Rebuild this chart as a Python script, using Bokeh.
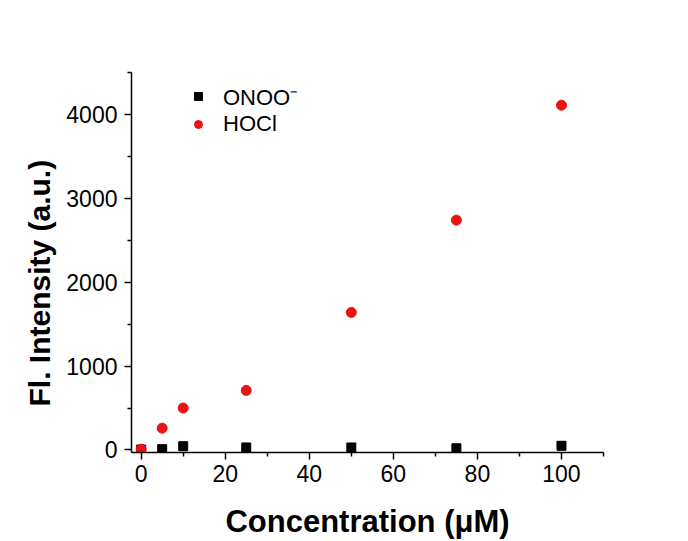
from bokeh.plotting import figure
from bokeh.models import Range1d, FixedTicker, Legend, LegendItem, Title
from bokeh.embed import file_html
from bokeh.resources import INLINE

conc_onoo = [0, 5, 10, 25, 50, 75, 100]
fl_onoo = [5, 10, 45, 30, 30, 20, 50]
conc_hocl = [0, 5, 10, 25, 50, 75, 100]
fl_hocl = [10, 260, 500, 710, 1640, 2740, 4110]
x_ticks = [0, 20, 40, 60, 80, 100]
y_ticks = [0, 1000, 2000, 3000, 4000]

p = figure(width=688, height=541, output_backend="svg", toolbar_location=None,
           x_range=Range1d(-2.3, 110), y_range=Range1d(-30, 4500),
           min_border_left=131, min_border_right=85, min_border_top=72, min_border_bottom=88)
p.outline_line_color = None
p.grid.visible = False

for ax in (p.xaxis[0], p.yaxis[0]):
    ax.axis_line_width = 1.5
    ax.major_tick_line_width = 1.5
    ax.minor_tick_line_width = 1.5
    ax.major_tick_in = 0
    ax.major_tick_out = 7
    ax.minor_tick_in = 0
    ax.minor_tick_out = 4
    ax.major_label_text_font = "Liberation Sans"
    ax.major_label_text_font_size = "23px"
    ax.major_label_text_color = "black"

p.xaxis.ticker = FixedTicker(ticks=x_ticks, minor_ticks=[10, 30, 50, 70, 90, 110])
p.yaxis.ticker = FixedTicker(ticks=y_ticks, minor_ticks=[500, 1500, 2500, 3500, 4500])
p.xaxis.major_label_standoff = 5
p.yaxis.major_label_standoff = 7

p.xaxis.axis_label = "Concentration (μM)"
p.xaxis.axis_label_text_font = "Liberation Sans"
p.xaxis.axis_label_text_font_style = "bold"
p.xaxis.axis_label_text_color = "black"
p.xaxis.axis_label_text_font_size = "31px"
p.xaxis.axis_label_standoff = 19

ytitle = Title(text="Fl. Intensity (a.u.)", align="left", offset=46,
               text_font="Liberation Sans", text_font_style="bold",
               text_font_size="30px", text_color="black", standoff=15)
p.add_layout(ytitle, "left")

r1 = p.scatter(conc_onoo, fl_onoo, marker="square", size=9, color="black")
r2 = p.scatter(conc_hocl, fl_hocl, marker="circle", size=10, color="#ee1111")

legend = Legend(items=[LegendItem(label="ONOO⁻", renderers=[r1]),
                       LegendItem(label="HOCl", renderers=[r2])],
                location=(57, 315))
legend.label_text_font = "Liberation Sans"
legend.label_text_font_size = "22px"
legend.label_text_color = "black"
legend.border_line_color = None
legend.background_fill_alpha = 0
legend.glyph_width = 20
legend.glyph_height = 24
legend.label_height = 24
legend.label_standoff = 15
legend.spacing = 0
legend.padding = 10
legend.margin = 0
p.add_layout(legend)

open("out.html", "w").write(file_html(p, INLINE))
